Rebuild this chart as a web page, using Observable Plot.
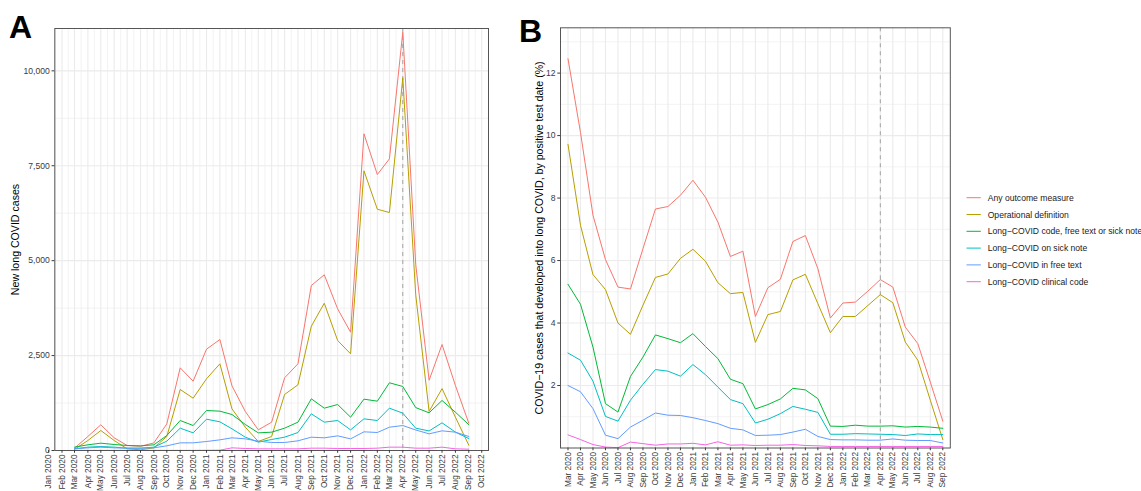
<!DOCTYPE html>
<html>
<head>
<meta charset="utf-8">
<script src="https://cdn.jsdelivr.net/npm/d3@7"></script>
<script src="https://cdn.jsdelivr.net/npm/@observablehq/plot@0.6"></script>
<style>
  body { margin: 0; background: #fff; font-family: "Liberation Sans", Arial, Helvetica, sans-serif; }
  #root { position: relative; width: 1141px; height: 491px; overflow: hidden; background: #fff; }
  #root > * { position: absolute; top: 0; }
</style>
</head>
<body>
<div id="root"></div>
<script>
// ---------- data ----------
const months = ["Mar 2020","Apr 2020","May 2020","Jun 2020","Jul 2020","Aug 2020","Sep 2020","Oct 2020","Nov 2020","Dec 2020",
  "Jan 2021","Feb 2021","Mar 2021","Apr 2021","May 2021","Jun 2021","Jul 2021","Aug 2021","Sep 2021","Oct 2021","Nov 2021","Dec 2021",
  "Jan 2022","Feb 2022","Mar 2022","Apr 2022","May 2022","Jun 2022","Jul 2022","Aug 2022","Sep 2022"];
const axisMonthsA = ["Jan 2020","Feb 2020","Mar 2020","Apr 2020","May 2020","Jun 2020","Jul 2020","Aug 2020","Sep 2020","Oct 2020","Nov 2020","Dec 2020",
  "Jan 2021","Feb 2021","Mar 2021","Apr 2021","May 2021","Jun 2021","Jul 2021","Aug 2021","Sep 2021","Oct 2021","Nov 2021","Dec 2021",
  "Jan 2022","Feb 2022","Mar 2022","Apr 2022","May 2022","Jun 2022","Jul 2022","Aug 2022","Sep 2022","Oct 2022"];
const cutoffMonth = "Apr 2022";

const seriesNames = ["Any outcome measure","Operational definition","Long\u2212COVID code, free text or sick note",
  "Long\u2212COVID on sick note","Long\u2212COVID in free text","Long\u2212COVID clinical code"];
const seriesColors = ["#F8766D","#B79F00","#00BA38","#00BFC4","#619CFF","#F564E3"];

// Panel A: new long COVID cases
const anyA   = [60,370,677,334,132,110,200,702,2177,1826,2668,2923,1703,1027,544,746,1914,2283,4346,4627,3731,3116,8341,7269,7682,11017,4900,1850,2792,1712,720];
const opA    = [30,263,527,263,44,18,70,369,1607,1378,1888,2283,1097,614,237,369,1475,1730,3274,3879,2897,2547,7367,6355,6268,9816,4100,1030,1630,877,140];
const codeFreeSickA = [88,150,193,158,132,123,150,395,790,658,1053,1036,948,685,465,483,588,746,1361,1115,1211,878,1352,1299,1784,1686,1130,993,1317,1009,680];
const sickA  = [44,88,105,88,61,61,88,246,588,465,825,755,571,351,220,290,351,474,966,746,790,544,834,790,1115,983,588,515,729,483,315];
const freeA  = [44,70,88,70,61,61,70,123,202,202,237,281,334,307,246,211,211,255,351,334,386,307,492,474,614,658,540,439,518,483,369];
const clinA  = [2,3,3,3,3,3,3,3,3,3,5,8,70,53,44,44,44,44,61,61,53,53,53,61,88,88,61,61,88,44,35];

// Panel B: % of COVID-19 cases developing long COVID
const anyB   = [12.46,10.1,7.45,6.03,5.15,5.09,6.38,7.65,7.73,8.09,8.57,8.03,7.23,6.13,6.30,4.21,5.13,5.40,6.61,6.80,5.74,4.16,4.64,4.67,5.02,5.39,5.15,3.87,3.34,2.11,0.86];
const opB    = [9.72,7.13,5.55,5.07,4.00,3.64,4.57,5.46,5.57,6.07,6.36,5.98,5.29,4.94,4.98,3.38,4.27,4.37,5.38,5.56,4.62,3.69,4.21,4.21,4.56,4.91,4.65,3.39,2.81,1.53,0.27];
const codeFreeSickB = [5.24,4.60,3.23,1.42,1.15,2.29,2.91,3.62,3.50,3.37,3.66,3.25,2.86,2.20,2.06,1.25,1.39,1.57,1.91,1.86,1.58,0.70,0.69,0.73,0.70,0.70,0.71,0.67,0.69,0.67,0.63];
const sickB  = [3.04,2.81,2.14,1.01,0.86,1.53,2.04,2.51,2.46,2.30,2.67,2.35,1.95,1.55,1.42,0.80,0.92,1.10,1.33,1.24,1.14,0.44,0.44,0.46,0.45,0.44,0.43,0.40,0.45,0.43,0.43];
const freeB  = [2.00,1.80,1.26,0.41,0.30,0.67,0.89,1.12,1.05,1.04,0.97,0.88,0.78,0.63,0.58,0.40,0.41,0.43,0.51,0.60,0.37,0.27,0.26,0.26,0.25,0.25,0.29,0.25,0.24,0.24,0.16];
const clinB  = [0.42,0.27,0.11,0.03,0.01,0.19,0.14,0.09,0.13,0.13,0.15,0.10,0.20,0.09,0.10,0.08,0.09,0.09,0.11,0.08,0.07,0.05,0.05,0.05,0.05,0.05,0.05,0.05,0.05,0.05,0.05];

const yTicksA = [0, 2500, 5000, 7500, 10000];
const yMinorA = [1250, 3750, 6250, 8750];
const yTicksB = [2, 4, 6, 8, 10, 12];
const yMinorB = [1, 3, 5, 7, 9, 11, 13];

const titleA = "New long COVID cases";
const titleB = "COVID\u221219 cases that developed into long COVID, by positive test date (%)";

// ---------- build ----------
const FONT = '"Liberation Sans", Arial, Helvetica, sans-serif';
const parse = d3.utcParse("%b %Y");
const seriesA = [anyA, opA, codeFreeSickA, sickA, freeA, clinA];
const seriesB = [anyB, opB, codeFreeSickB, sickB, freeB, clinB];
const dataA = seriesNames.flatMap((s, k) => months.map((m, i) => ({series: s, date: parse(m), value: seriesA[k][i]})));
const dataB = seriesNames.flatMap((s, k) => months.map((m, i) => ({series: s, month: m, value: seriesB[k][i]})));

const t0 = parse(months[0]), t1 = parse(months[months.length - 1]);
const pad = (t1 - t0) * 0.05;
const xDomainA = [new Date(+t0 - pad), new Date(+t1 + pad)];
const majorA = axisMonthsA.map(parse);
const inA = d => d >= xDomainA[0] && d <= xDomainA[1];
const minorA = d3.pairs(majorA).map(([a, b]) => new Date((+a + +b) / 2));

const gridColor = "#EBEBEB";
const axisColor = "#3a3a3a";
const commonStyle = {fontFamily: FONT, fontSize: "8.6px", color: axisColor, background: "transparent", overflow: "visible"};
const colorScale = {domain: seriesNames, range: seriesColors};

const plotA = Plot.plot({
  width: 500, height: 491,
  marginLeft: 54.3, marginRight: 12, marginTop: 28, marginBottom: 41,
  style: commonStyle,
  x: {type: "utc", domain: xDomainA},
  y: {domain: [0, 11115]},
  color: colorScale,
  marks: [
    Plot.ruleX(minorA.filter(inA), {stroke: gridColor, strokeWidth: 0.6}),
    Plot.ruleY(yMinorA, {stroke: gridColor, strokeWidth: 0.6}),
    Plot.ruleX(majorA.filter(inA), {stroke: gridColor, strokeWidth: 1.1}),
    Plot.ruleY(yTicksA, {stroke: gridColor, strokeWidth: 1.1}),
    Plot.ruleX([parse(cutoffMonth)], {stroke: "#9a9a9a", strokeWidth: 0.9, strokeDasharray: "4,4"}),
    Plot.line(dataA, {x: "date", y: "value", z: "series", stroke: "series", strokeWidth: 1}),
    Plot.frame({stroke: "#555", strokeWidth: 1}),
    Plot.axisY({ticks: yTicksA, tickFormat: d3.format(","), tickSize: 2.75, tickPadding: 2.2, label: null}),
    Plot.axisX({ticks: majorA, tickFormat: d3.utcFormat("%b %Y"), tickRotate: -90, tickSize: 2.75, tickPadding: 1.2, fontSize: 8.3, label: null}),
    Plot.text([titleA], {text: d => d, frameAnchor: "left", textAnchor: "middle", dx: -39, rotate: -90, fontSize: 10.6, fill: "#000"})
  ]
});
plotA.style.left = "0px";

const plotB = Plot.plot({
  width: 455, height: 491,
  marginLeft: 60, marginRight: 5.2, marginTop: 27.3, marginBottom: 43.5,
  style: commonStyle,
  x: {type: "point", domain: months, padding: 0.6, round: false},
  y: {domain: [0, 13.45]},
  color: colorScale,
  marks: [
    Plot.ruleY(yMinorB, {stroke: gridColor, strokeWidth: 0.6}),
    Plot.ruleX(months, {stroke: gridColor, strokeWidth: 1.1}),
    Plot.ruleY(yTicksB, {stroke: gridColor, strokeWidth: 1.1}),
    Plot.ruleX([cutoffMonth], {stroke: "#9a9a9a", strokeWidth: 0.9, strokeDasharray: "4,4"}),
    Plot.line(dataB, {x: "month", y: "value", z: "series", stroke: "series", strokeWidth: 1}),
    Plot.frame({stroke: "#555", strokeWidth: 1}),
    Plot.axisY({ticks: yTicksB, tickSize: 2.75, tickPadding: 2.2, label: null}),
    Plot.axisX({ticks: months, tickRotate: -90, tickSize: 2.75, tickPadding: 1.2, fontSize: 8.3, label: null}),
    Plot.text([titleB], {text: d => d, frameAnchor: "left", textAnchor: "middle", dx: -21, rotate: -90, fontSize: 10.6, fill: "#000"})
  ]
});
plotB.style.left = "500px";

const root = document.getElementById("root");
root.appendChild(plotA);
root.appendChild(plotB);

// panel tags
const tags = d3.select(root).append("svg")
  .attr("width", 1141).attr("height", 60)
  .style("left", "0px").style("pointer-events", "none");
tags.selectAll("text").data([["A", 9, 38.3], ["B", 519, 41.7]]).join("text")
  .attr("x", d => d[1]).attr("y", d => d[2])
  .attr("font-family", FONT).attr("font-weight", "bold").attr("font-size", 32)
  .text(d => d[0]);

// legend
const leg = d3.select(root).append("svg")
  .attr("width", 186).attr("height", 491).style("left", "955px");
const rows = leg.selectAll("g").data(seriesNames).join("g")
  .attr("transform", (d, i) => `translate(0, ${197.7 + i * 16.8})`);
rows.append("line").attr("x1", 11.5).attr("x2", 25.8).attr("y1", 0).attr("y2", 0)
  .attr("stroke", (d, i) => seriesColors[i]).attr("stroke-width", 1);
rows.append("text").attr("x", 32.7).attr("y", 3.1)
  .attr("font-family", FONT).attr("font-size", 8.6).attr("fill", "#1a1a1a")
  .text(d => d);
</script>
</body>
</html>
